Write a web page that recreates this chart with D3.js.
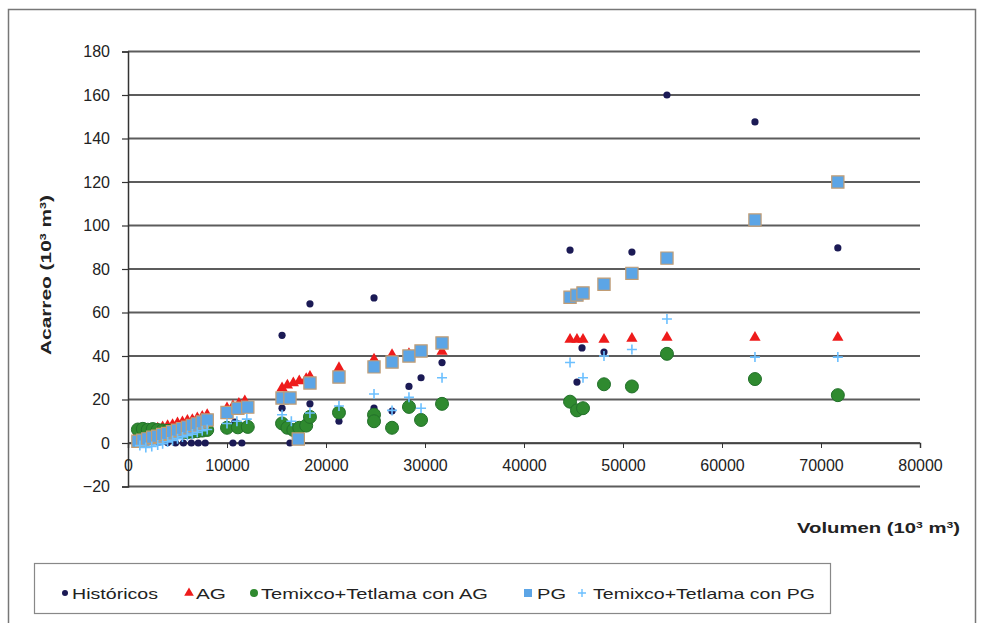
<!DOCTYPE html>
<html>
<head>
<meta charset="utf-8">
<script src="https://cdn.jsdelivr.net/npm/d3@7"></script>
<style>
  body { margin: 0; background: #fff; }
  text { font-family: "Liberation Sans", Arial, sans-serif; fill: #222; }
</style>
</head>
<body>
<script>
// waarden: [volumen, acarreo]
const historicos = [
  [1300, 1.5], [2200, 0.8], [3100, 0.4], [4000, 0.2], [4800, 0], [5600, 0], [6400, 0], [7100, 0], [7800, 0],
  [10600, 0], [11500, 0], [10800, 9.6],
  [15560, 49.5], [15560, 16], [16360, 0], [18380, 64], [18380, 18], [21310, 10], [24850, 66.7], [24850, 16],
  [26670, 14.7], [28380, 26], [29600, 30], [31720, 37],
  [44650, 88.7], [45350, 28], [45860, 43.7], [48080, 41.8], [50900, 87.8], [54440, 160], [63330, 147.6], [71700, 89.7]
];
const ag = [
  [1000, 5.2], [1500, 5.8], [2000, 6.1], [2500, 6.9], [3000, 7.2], [3500, 7.8], [4000, 8.4], [4500, 8.9], [5000, 9.6],
  [5500, 10.1], [6000, 10.8], [6500, 11.2], [7000, 11.9], [7500, 12.6], [8000, 13.4],
  [10000, 16.5], [10600, 17.5], [11200, 18.6], [11800, 19.8],
  [15560, 25.7], [16100, 27], [16700, 28], [17300, 29], [18000, 30], [18380, 31], [21310, 35], [24850, 39],
  [26670, 41], [28380, 41.5], [29600, 42], [31720, 42.5],
  [44650, 48], [45350, 48], [45960, 48], [48080, 48], [50900, 48.5], [54440, 49], [63330, 49], [71700, 49]
];
const temixcoAG = [
  [1000, 6.2], [1500, 6.5], [2000, 6.1], [2500, 6.4], [3000, 6.0], [3500, 5.8], [4000, 5.6], [4500, 5.4], [5000, 5.3],
  [5500, 5.1], [6000, 5.0], [6500, 5.2], [7000, 5.4], [7500, 5.7], [8000, 6.0],
  [10000, 7], [11100, 7.2], [12100, 7.4],
  [15560, 9], [16100, 7], [16700, 6], [17300, 7], [18000, 8], [18380, 12], [21310, 14], [24850, 13], [24850, 10],
  [26670, 7], [28380, 16.6], [29600, 10.6], [31720, 18],
  [44650, 19], [45350, 15], [45960, 16], [48080, 27], [50900, 26], [54440, 41], [63330, 29.4], [71700, 22]
];
const pg = [
  [1000, 0.8], [1500, 1.3], [2000, 1.9], [2500, 2.6], [3000, 3.1], [3500, 3.9], [4000, 4.4], [4500, 5.2], [5000, 5.9],
  [5500, 6.6], [6000, 7.3], [6500, 8.1], [7000, 8.8], [7500, 9.7], [8000, 10.6],
  [10000, 14], [11100, 16], [12100, 16.5],
  [15560, 20.7], [16360, 20.7], [17200, 1.8], [18380, 27.6], [21310, 30.3], [24850, 35], [26670, 37.2],
  [28380, 40], [29600, 42.3], [31720, 46],
  [44650, 67], [45350, 68], [45960, 69], [48080, 73], [50900, 78], [54440, 85], [63330, 102.5], [71700, 120]
];
const temixcoPG = [
  [1200, -1.2], [1800, -2.1], [2400, -1.6], [3000, -0.9], [3500, -0.3], [4000, 0.5], [4500, 1.2], [5000, 2.0],
  [5500, 2.8], [6000, 3.5], [6500, 4.1], [7000, 4.9], [7500, 5.6], [8000, 6.2],
  [10000, 9], [11000, 10], [12000, 11],
  [15560, 13], [16500, 10], [18380, 13.8], [21310, 17], [24850, 22.5], [26670, 15], [28380, 21], [29600, 16], [31720, 30],
  [44650, 37], [45960, 30], [48080, 40], [50900, 43], [54440, 57], [63330, 39.5], [71700, 39.5]
];

const yTicks = [-20, 0, 20, 40, 60, 80, 100, 120, 140, 160, 180];
const xTicks = [0, 10000, 20000, 30000, 40000, 50000, 60000, 70000, 80000];
const reeksen = ['Históricos', 'AG', 'Temixco+Tetlama con AG', 'PG', 'Temixco+Tetlama con PG'];

const W = 983, H = 623;
const plot = { left: 128, right: 920, top: 51.5, bottom: 486.5 };

const svg = d3.select('body').append('svg').attr('width', W).attr('height', H);

// buitenrand van de grafiek
svg.append('rect').attr('x', 8.5).attr('y', 9.5).attr('width', 967).attr('height', 630)
  .attr('fill', '#fff').attr('stroke', '#777').attr('stroke-width', 1.5);

const x = d3.scaleLinear().domain([0, 80000]).range([plot.left, plot.right]);
const y = d3.scaleLinear().domain([-20, 180]).range([plot.bottom, plot.top]);

// horizontale rasterlijnen
svg.append('g').selectAll('line').data(yTicks).join('line')
  .attr('x1', plot.left).attr('x2', plot.right)
  .attr('y1', d => y(d)).attr('y2', d => y(d))
  .attr('stroke', '#5c5c5c').attr('stroke-width', 1.8);

// y-as
const yAxis = svg.append('g').attr('transform', `translate(${plot.left},0)`)
  .call(d3.axisLeft(y).tickValues(yTicks).tickSize(6).tickPadding(12));
yAxis.select('.domain').attr('stroke', '#333').attr('stroke-width', 1.5);
yAxis.selectAll('.tick line').attr('stroke', '#333').attr('stroke-width', 1.2);
yAxis.selectAll('.tick text').style('font-size', '16px').style('font-family', '"Liberation Sans", Arial, sans-serif').attr('fill', '#222');

// x-as ligt op y = 0
const xAxis = svg.append('g').attr('transform', `translate(0,${y(0)})`)
  .call(d3.axisBottom(x).tickValues(xTicks).tickFormat(d3.format('d')).tickSize(5).tickPadding(12));
xAxis.select('.domain').attr('stroke', '#444').attr('stroke-width', 1.5);
xAxis.selectAll('.tick line').attr('stroke', '#333');
xAxis.selectAll('.tick text').style('font-size', '16px').style('font-family', '"Liberation Sans", Arial, sans-serif').attr('fill', '#222');

// aslabels
const yTitle = svg.append('text')
  .attr('transform', 'translate(51,275)rotate(-90)')
  .attr('text-anchor', 'middle').style('font-size', '15px').style('font-weight', 'bold')
  .attr('textLength', 160).attr('lengthAdjust', 'spacingAndGlyphs');
yTitle.append('tspan').text('Acarreo (10');
yTitle.append('tspan').attr('baseline-shift', 'super').style('font-size', '9px').text('3');
yTitle.append('tspan').text(' m');
yTitle.append('tspan').attr('baseline-shift', 'super').style('font-size', '9px').text('3');
yTitle.append('tspan').text(')');

const xTitle = svg.append('text')
  .attr('x', 797).attr('y', 533)
  .style('font-size', '15px').style('font-weight', 'bold')
  .attr('textLength', 163).attr('lengthAdjust', 'spacingAndGlyphs');
xTitle.append('tspan').text('Volumen (10');
xTitle.append('tspan').attr('baseline-shift', 'super').style('font-size', '9px').text('3');
xTitle.append('tspan').text(' m');
xTitle.append('tspan').attr('baseline-shift', 'super').style('font-size', '9px').text('3');
xTitle.append('tspan').text(')');

// markers
const marks = svg.append('g');
const tri = d3.symbol().type(d3.symbolTriangle).size(55);
const sq = d3.symbol().type(d3.symbolSquare).size(150);

marks.append('g').selectAll('circle').data(historicos).join('circle')
  .attr('cx', d => x(d[0])).attr('cy', d => y(d[1])).attr('r', 3.6)
  .attr('fill', '#1b1a55');

marks.append('g').selectAll('path').data(ag).join('path')
  .attr('d', tri).attr('transform', d => `translate(${x(d[0])},${y(d[1]) + 1})`)
  .attr('fill', '#ee1b1b');

marks.append('g').selectAll('circle').data(temixcoAG).join('circle')
  .attr('cx', d => x(d[0])).attr('cy', d => y(d[1])).attr('r', 6.5)
  .attr('fill', '#2f8a2f').attr('stroke', '#22702a').attr('stroke-width', 1);

marks.append('g').selectAll('path').data(pg).join('path')
  .attr('d', sq).attr('transform', d => `translate(${x(d[0])},${y(d[1])})`)
  .attr('fill', '#5ca5e6').attr('stroke', '#c29d74').attr('stroke-width', 1.2);

marks.append('g').selectAll('path').data(temixcoPG).join('path')
  .attr('d', d => {
    const cx = x(d[0]), cy = y(d[1]);
    return `M${cx - 5},${cy}H${cx + 5}M${cx},${cy - 5}V${cy + 5}`;
  })
  .attr('stroke', '#6cc0ff').attr('stroke-width', 1.6).attr('fill', 'none');

// legenda
const legend = svg.append('g');
legend.append('rect').attr('x', 34.5).attr('y', 563.5).attr('width', 796).attr('height', 50)
  .attr('fill', '#fff').attr('stroke', '#888').attr('stroke-width', 1.2);

const legItems = [
  { mx: 65, tx: 72, tl: 86 },
  { mx: 189, tx: 196, tl: 30 },
  { mx: 254, tx: 261, tl: 227 },
  { mx: 528, tx: 537, tl: 29 },
  { mx: 582, tx: 593, tl: 222 }
];
const ly = 593;
legItems.forEach((it, i) => {
  const g = legend.append('g');
  if (i === 0) g.append('circle').attr('cx', it.mx).attr('cy', ly).attr('r', 3).attr('fill', '#1b1a55');
  if (i === 1) g.append('path').attr('d', d3.symbol().type(d3.symbolTriangle).size(40)).attr('transform', `translate(${it.mx},${ly})`).attr('fill', '#ee1b1b');
  if (i === 2) g.append('circle').attr('cx', it.mx).attr('cy', ly).attr('r', 4).attr('fill', '#2f8a2f');
  if (i === 3) g.append('rect').attr('x', it.mx - 4).attr('y', ly - 4).attr('width', 8).attr('height', 8).attr('fill', '#5ca5e6');
  if (i === 4) g.append('path').attr('d', `M${it.mx - 4},${ly}H${it.mx + 4}M${it.mx},${ly - 4}V${ly + 4}`).attr('stroke', '#6cc0ff').attr('stroke-width', 1.4);
  g.append('text').attr('x', it.tx).attr('y', ly + 5.5)
    .style('font-size', '15px')
    .attr('textLength', it.tl).attr('lengthAdjust', 'spacingAndGlyphs')
    .text(reeksen[i]);
});
</script>
</body>
</html>
